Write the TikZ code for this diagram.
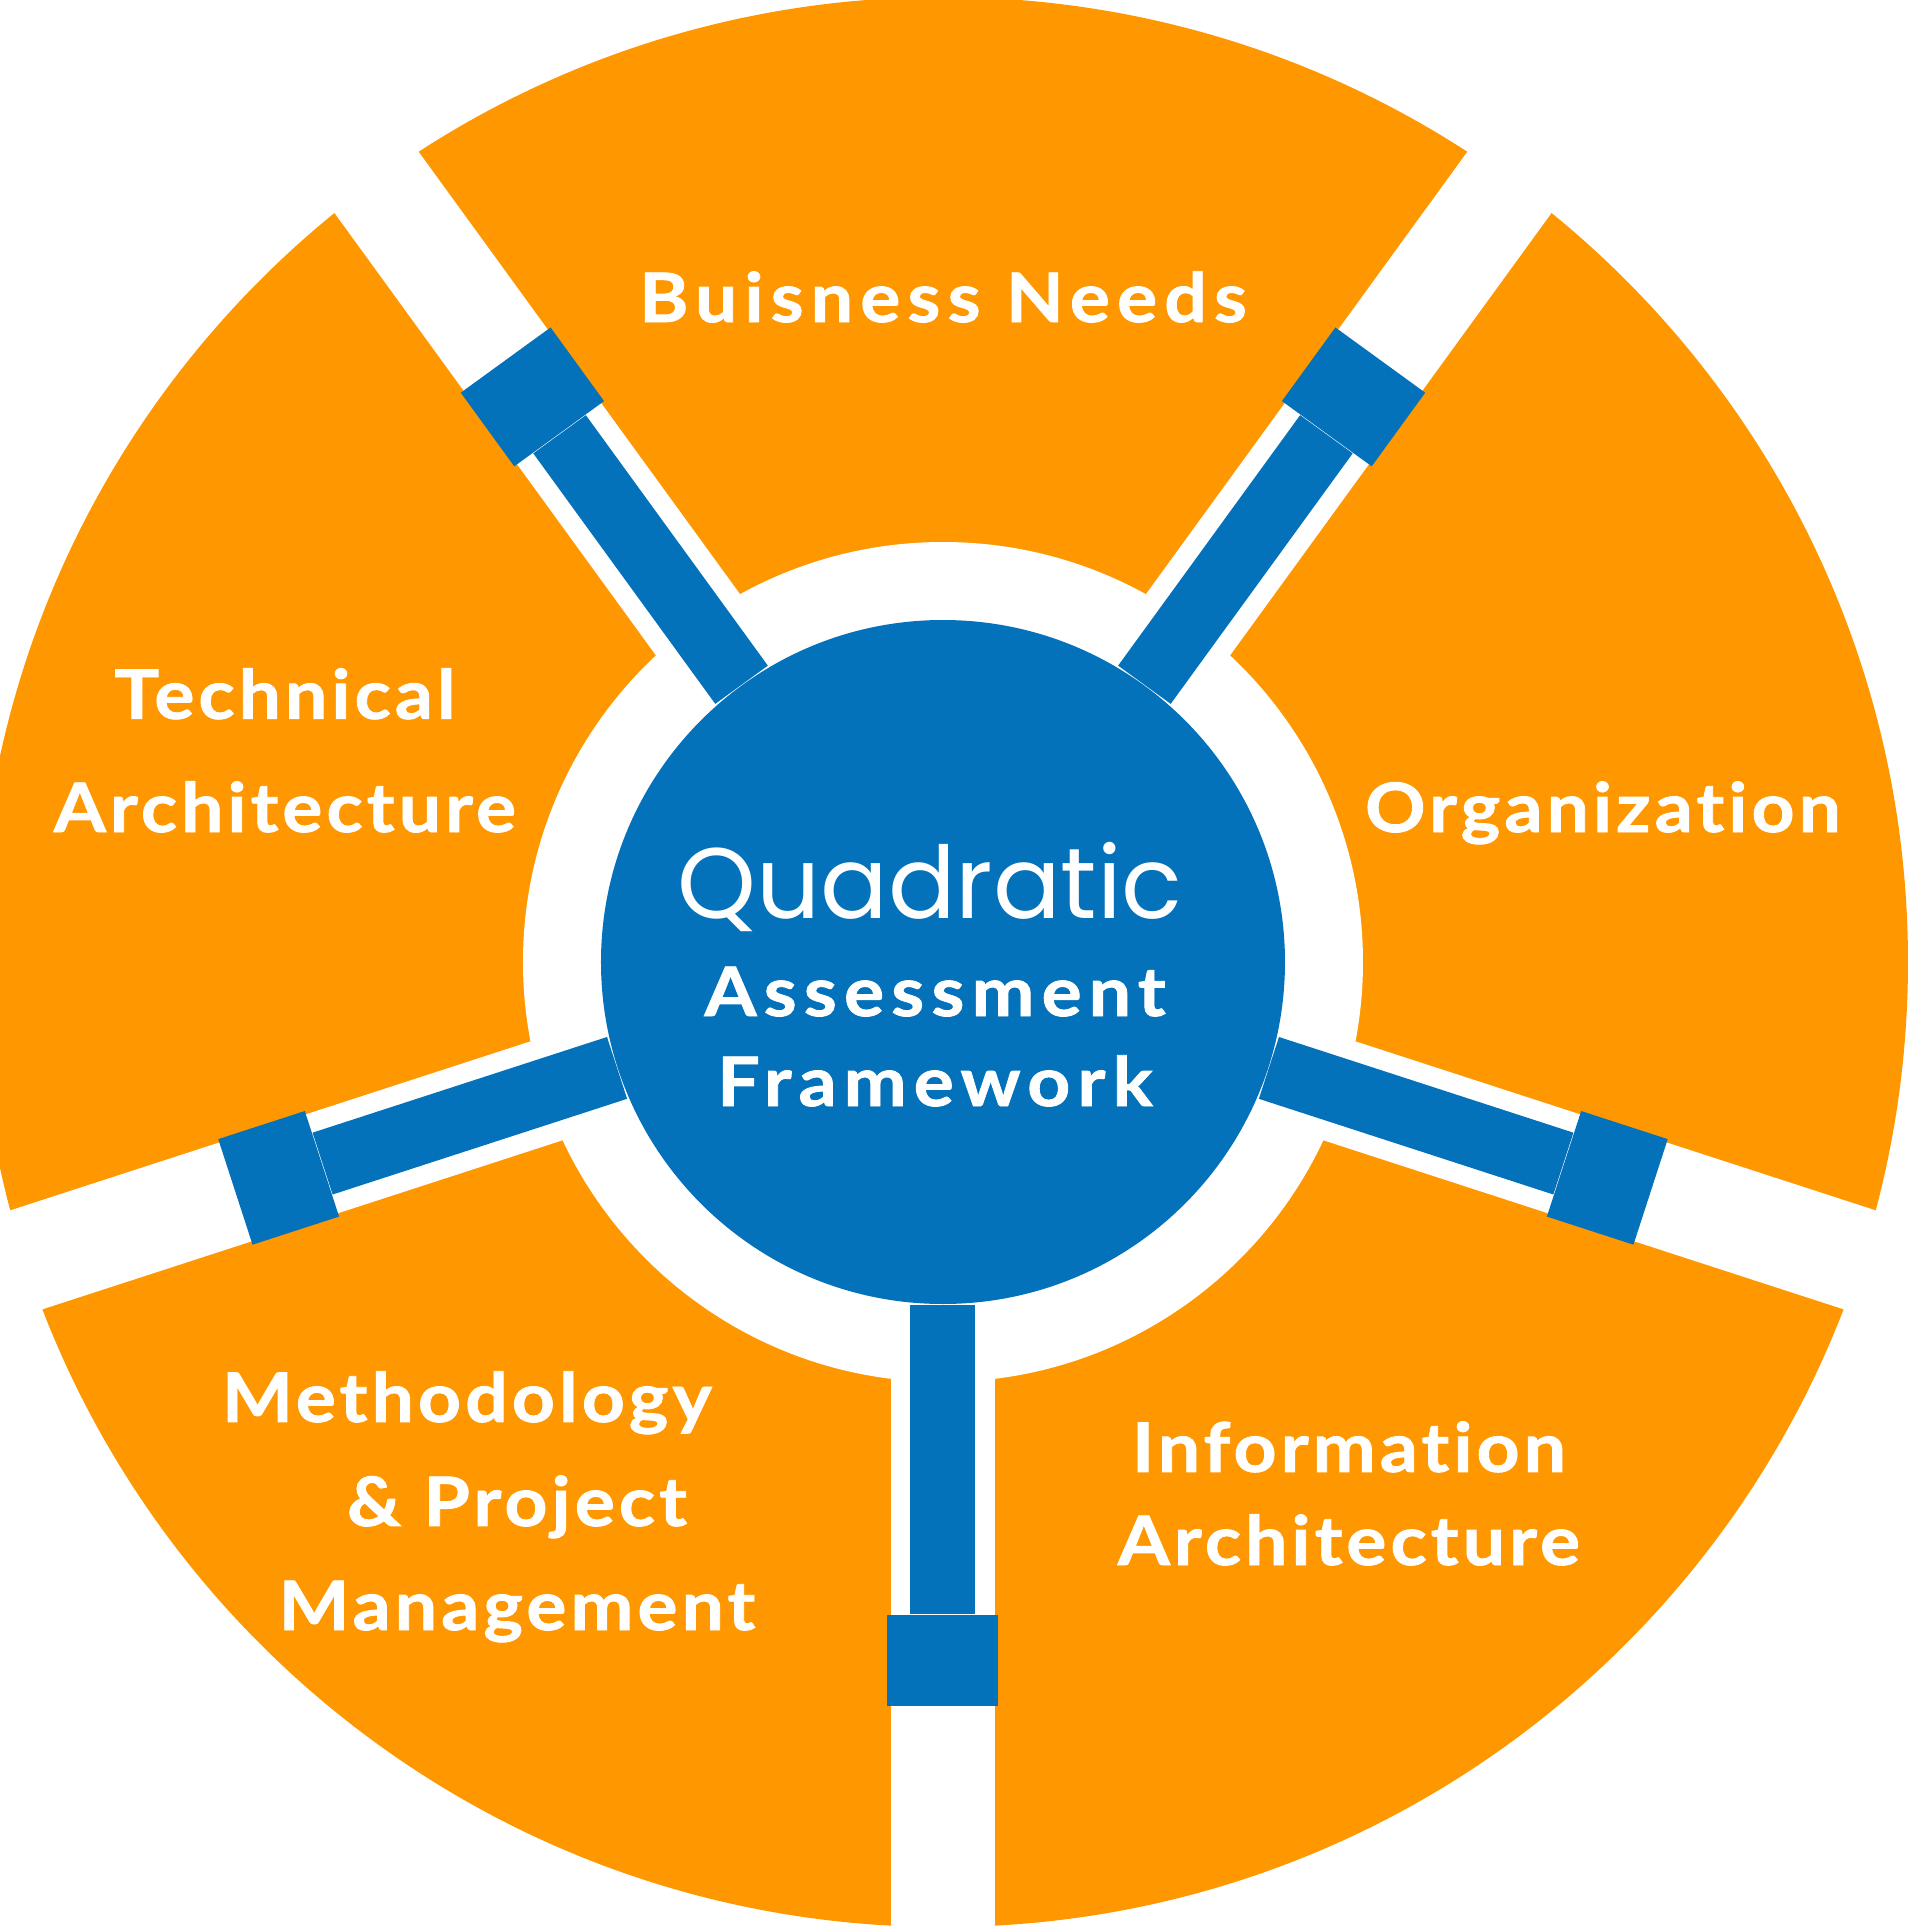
\documentclass[tikz,border=0pt]{standalone}
\usepackage{fontspec}
\usetikzlibrary{positioning}
\newfontfamily\labelfont{Lato}[LetterSpace=6, FakeStretch=1.1, Ligatures=NoCommon,
                              BoldFeatures={FakeBold=1.2}]
\newfontfamily\widefont{Lato}[LetterSpace=10.5, FakeStretch=1.1, Ligatures=NoCommon,
                             BoldFeatures={FakeBold=1.2}]
\newfontfamily\titlefont{Poppins}
\definecolor{segorange}{HTML}{FF9800}
\definecolor{hubblue}{HTML}{0372BB}
\tikzset{
  seglabel/.style={text=white, inner sep=0pt, align=center,
                   font=\labelfont\bfseries\fontsize{19.4pt}{#1}\selectfont},
  seglabel/.default=30pt,
  widelabel/.style={seglabel, font=\widefont\bfseries\fontsize{19.4pt}{#1}\selectfont},
  widelabel/.default=30pt,
  capbox/.style={fill=hubblue, minimum width=0.91cm, minimum height=1.11cm, inner sep=0pt},
  spokebar/.style={hubblue, line width=0.65cm},
  gapband/.style={white, line width=1.04cm},
}

\begin{document}
\begin{tikzpicture}
  \useasboundingbox (-9.43,-9.65) rectangle (9.84,9.62);
  \clip (-9.43,-9.65) rectangle (9.84,9.62);
  % wheel of five segments
  \fill[segorange] (0,0) circle (9.65);
  \fill[white] (0,0) circle (4.20);
  \foreach \a in {270,342,54,126,198}
    \draw[gapband] (0,0) -- (\a:10.5);
  % hub with its spokes
  \node[circle, fill=hubblue, minimum size=6.84cm, inner sep=0pt] (hub) at (0,0) {};
  \foreach \a/\n in {270/s,342/se,54/ne,126/nw,198/sw} {
    \node[capbox, rotate=\a] (cap\n) at (\a:6.985) {};
    \draw[spokebar] (hub) -- (cap\n);
  }
  % texts (base = last line)
  \node[text=white, inner sep=0pt, anchor=base,
        font=\titlefont\fontsize{28.5pt}{34pt}\selectfont] (title) at (-0.13,0.44) {Quadratic};
  \node[widelabel=25.6pt, anchor=base] (subtitle) at (-0.08,-1.44) {Assessment\\Framework};
  \node[widelabel, anchor=base] (needs) at (0,6.40) {Buisness Needs};
  \node[seglabel=32.2pt, anchor=base] (tech) at (-6.58,1.30) {Technical\\Architecture};
  \node[seglabel, anchor=base] (org) at (6.60,1.30) {Organization};
  \node[seglabel=29.6pt, anchor=base] (method) at (-4.26,-6.68)
    {Methodology\hspace*{1cm}\\\& Project\\Management};
  \node[seglabel=26.5pt, anchor=base] (info) at (4.06,-6.03) {Information\\Architecture};
\end{tikzpicture}
\end{document}
